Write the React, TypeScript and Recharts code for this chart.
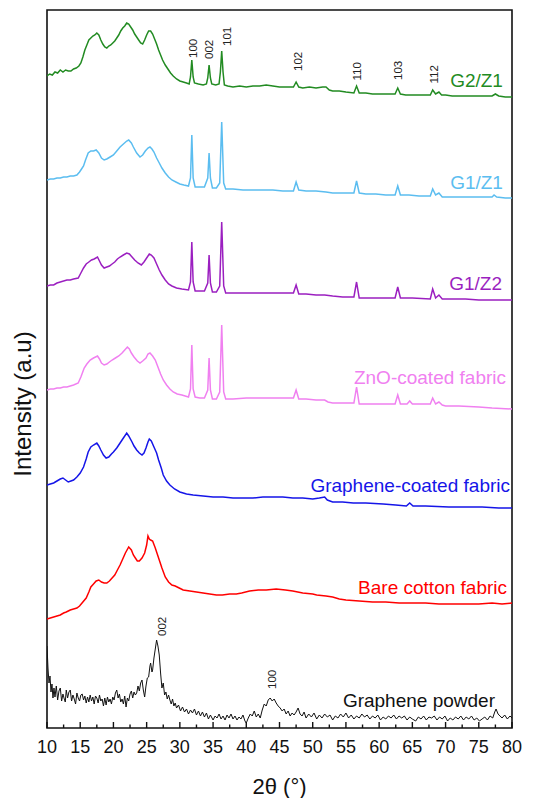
import React from 'react';
import { LineChart, Line, XAxis, YAxis, ReferenceArea, ReferenceDot } from 'recharts';

type Pt = [number, number];

// 2θ (deg) vs stacked intensity (a.u.)
const g2z1: Pt[] = [
[10.0,652],[10.4,654],[10.8,653],[11.2,656],[11.6,655],[12.0,658],[12.4,656],[12.8,658],[13.2,657],[13.6,657],[14.0,659],[14.4,660],[14.8,662],[15.1,665],[15.4,671],[15.7,678],[16.0,683],[16.3,688],[16.6,690],[16.9,692],[17.2,693],[17.5,695],[17.8,693],[18.1,688],[18.4,684],[18.7,681],[19.0,680],[19.3,682],[19.6,683],[19.9,685],[20.2,687],[20.5,690],[20.8,693],[21.1,697],[21.4,700],[21.7,702],[22.0,705],[22.3,704],[22.6,701],[22.9,698],[23.2,694],[23.5,691],[23.8,688],[24.1,685],[24.4,684],[24.7,688],[25.0,693],[25.3,697],[25.6,697],[25.9,694],[26.2,689],[26.5,684],[26.8,678],[27.1,673],[27.4,668],[27.8,663],[28.2,659],[28.6,655],[29.0,652],[29.5,649],[30.0,647],[30.5,646],[31.0,645],[31.4,644],[31.6,651],[31.8,668],[32.0,651],[32.2,645],[32.8,644],[33.5,643],[34.0,644],[34.2,650],[34.4,663],[34.6,650],[34.8,644],[35.4,643],[35.9,644],[36.1,656],[36.3,677],[36.5,656],[36.7,643],[37.2,642],[38,641],[39,642],[40,641],[41,642],[42,642],[43,643],[44,642],[45,641],[46,641],[47.1,641],[47.5,646],[47.9,641],[48.5,640],[49.5,641],[50.5,640],[51.5,641],[52.0,641],[52.5,638],[53,637],[54,637],[55,636],[56.2,635],[56.6,642],[57.0,635],[58,635],[59,634],[60,634],[61,634],[62.4,634],[62.8,640],[63.2,634],[64,633],[65,633],[66,633],[67,633],[67.7,633],[68.06,638],[68.5,634],[69.0,636],[69.4,633],[70,633],[71,632],[72,632],[73,632],[74,632],[75,632],[76,632],[77,632],[77.5,634],[78,632],[79,631],[80,631]];

const g1z1: Pt[] = [
[10.0,548],[10.5,549],[11,549],[11.5,550],[12,550],[12.5,551],[13,551],[13.5,552],[14,552],[14.5,553],[14.9,556],[15.2,559],[15.5,562],[15.8,568],[16.2,575],[16.6,577],[17.0,577],[17.4,578],[17.8,575],[18.2,570],[18.6,568],[19.0,569],[19.5,571],[20.0,573],[20.5,577],[21.0,581],[21.5,584],[22.0,587],[22.3,588],[22.7,585],[23.0,581],[23.5,575],[24.0,571],[24.4,573],[24.8,577],[25.2,580],[25.5,581],[25.8,579],[26.1,576],[26.5,570],[26.9,565],[27.3,560],[27.8,555],[28.3,551],[28.8,548],[29.4,546],[30,544],[30.6,543],[31.3,542],[31.6,550],[31.8,593],[32.0,550],[32.3,541],[33,541],[33.7,541],[34.2,550],[34.4,575],[34.6,550],[34.9,540],[35.5,540],[36.0,545],[36.3,606],[36.6,545],[36.9,539],[38,539],[39.5,538],[41,538],[42.5,538],[44,538],[45.5,537],[47.1,537],[47.5,546],[47.9,538],[49,537],[50.5,537],[52,536],[53,535],[54.5,535],[56.2,535],[56.6,547],[57.0,535],[58,534],[59.5,534],[61,533],[62.4,533],[62.8,542],[63.2,533],[64.5,533],[66,532],[67.7,532],[68.06,539],[68.5,533],[69.0,535],[69.5,531],[71,531],[73,531],[75,531],[77,531],[77.3,533],[77.7,531],[79,530],[80,530]];

const g1z2: Pt[] = [
[10,442],[10.5,443],[11,443],[11.5,445],[12,446],[12.5,447],[13,448],[13.5,448],[14,449],[14.7,450],[15.1,455],[15.5,460],[15.9,464],[16.3,466],[16.7,468],[17.1,469],[17.6,471],[17.9,467],[18.2,463],[18.6,460],[19.0,461],[19.4,462],[19.8,464],[20.2,466],[20.6,469],[21.0,471],[21.5,473],[22.0,475],[22.4,474],[22.8,471],[23.2,468],[23.7,465],[24.2,463],[24.6,466],[25.0,470],[25.4,474],[25.7,473],[26.1,470],[26.5,464],[26.9,458],[27.3,453],[27.8,448],[28.3,444],[28.8,442],[29.5,440],[30.3,439],[31.3,438],[31.6,446],[31.8,486],[32.0,446],[32.3,437],[33,437],[33.7,437],[34.2,445],[34.4,473],[34.6,445],[34.9,436],[35.5,436],[36.0,442],[36.3,506],[36.6,442],[36.9,435],[38,435],[40,435],[42,435],[44,435],[45.5,435],[47.1,435],[47.5,443],[47.9,434],[49,434],[50.5,433],[51.8,433],[53,432],[54.5,431],[56.2,431],[56.6,446],[57.0,430],[58.5,430],[60,430],[62.4,430],[62.8,441],[63.2,430],[65,430],[67.7,429],[68.06,439],[68.5,430],[69.0,433],[69.5,429],[71,429],[73,429],[75,428],[77,428],[79,428],[80,428]];

const znoFabric: Pt[] = [
[10,338],[10.5,339],[11,339],[11.5,340],[12,340],[12.5,341],[13,341],[13.5,342],[14,343],[14.7,345],[15.1,351],[15.6,360],[16.0,364],[16.5,368],[17.0,370],[17.6,372],[17.9,369],[18.2,365],[18.6,363],[19.0,364],[19.4,366],[19.8,368],[20.3,370],[20.8,372],[21.3,375],[21.7,378],[22.1,381],[22.4,379],[22.7,375],[23.1,371],[23.6,367],[24.0,365],[24.4,367],[24.9,370],[25.2,374],[25.5,375],[25.9,372],[26.3,368],[26.7,361],[27.1,354],[27.5,348],[28.0,343],[28.5,339],[29.0,336],[29.6,334],[30.3,333],[31.3,331],[31.6,339],[31.8,383],[32.0,339],[32.3,331],[33,330],[33.7,330],[34.2,338],[34.4,370],[34.6,338],[34.9,329],[35.5,329],[36.0,336],[36.3,403],[36.6,336],[36.9,329],[38,329],[40,330],[42,330],[44,330],[45.5,330],[47.1,330],[47.5,338],[47.9,329],[49,329],[50.5,328],[51.8,328],[52.3,326],[53,325],[54.5,325],[56.2,325],[56.6,341],[57.0,324],[58.5,324],[60,324],[62.4,324],[62.8,333],[63.2,324],[64.2,324],[64.6,327],[65.0,324],[66.5,324],[67.7,324],[68.06,330],[68.5,324],[69.0,326],[69.5,323],[70,322],[72,322],[75,321],[77,320],[80,319]];

const grapheneFabric: Pt[] = [
[10,243],[10.5,244],[11,245],[11.5,247],[12,249],[12.4,250],[12.8,248],[13.2,246],[13.6,247],[14.0,248],[14.5,251],[15.0,255],[15.5,261],[15.9,269],[16.2,276],[16.6,281],[17.0,283],[17.5,285],[17.8,282],[18.1,278],[18.5,273],[18.9,270],[19.3,271],[19.7,274],[20,276],[20.5,280],[21,285],[21.5,290],[22,295],[22.3,292],[22.8,286],[23.1,282],[23.5,278],[23.9,275],[24.3,273],[24.6,275],[24.9,280],[25.2,286],[25.4,289],[25.7,287],[26.1,281],[26.5,275],[26.8,268],[27.2,260],[27.5,253],[28.0,247],[28.5,243],[29.2,239],[30,236],[31,234],[32,233],[33.5,232],[35,231],[36.5,231],[38,230],[39.5,230],[41,230],[42.5,231],[44,231],[45.5,231],[47,230],[48.5,230],[50,229],[51,230],[51.8,231],[52.2,228],[53,226],[54.5,226],[56.1,225],[58,225],[60.6,224],[62.5,223],[64.1,222],[64.6,225],[65.1,222],[67,222],[70.5,221],[73,221],[75.5,221],[78,220],[80,220]];

const bareCotton: Pt[] = [
[10,109],[10.5,110],[11,111],[11.5,112],[12,113],[12.5,115],[12.9,116],[13.5,118],[14.0,119],[14.5,120],[14.9,122],[15.4,126],[15.9,130],[16.3,136],[16.6,141],[17.0,144],[17.4,147],[17.8,148],[18.2,146],[18.6,145],[19.0,145],[19.4,147],[19.8,150],[20.2,153],[20.6,158],[21.0,163],[21.4,169],[21.8,175],[22.3,181],[22.7,178],[23.0,173],[23.3,170],[23.6,167],[23.9,167],[24.3,170],[24.7,175],[25.0,183],[25.2,192],[25.4,189],[25.6,188],[25.9,187],[26.3,180],[26.6,174],[26.9,168],[27.3,160],[27.8,151],[28.3,146],[28.8,143],[29.3,142],[29.9,140],[30.5,138],[31.5,137],[32.5,136],[33.5,135],[34.5,134],[35.5,133],[36.4,133],[37.5,134],[38.5,134],[39.3,135],[40.5,137],[41.8,138],[43,138],[44.5,139],[45.9,138],[47,137],[48.5,135],[50,134],[50.6,133],[52,132],[53,131],[54,129],[55,128],[57,127],[59,126],[61,126],[63,125],[65,125],[67,125],[69,124],[71,124],[73,124],[75,124],[77,125],[78.5,124],[80,125]];

const graphenePowder: Pt[] = [
[10.0,82],[10.15,60],[10.3,45],[10.45,52],[10.6,36],[10.75,44],[10.9,30],[11.05,40],[11.2,31],[11.4,42],[11.6,28],[11.8,37],[12.0,40],[12.2,27],[12.4,34],[12.6,29],[12.75,26],[12.9,38],[13.1,30],[13.3,36],[13.5,38],[13.7,27],[13.9,33],[14.1,29],[14.3,24],[14.5,35],[14.7,30],[14.9,27],[15.1,33],[15.3,34],[15.5,28],[15.7,32],[15.9,25],[16.1,31],[16.3,26],[16.5,33],[16.7,27],[16.9,31],[17.1,24],[17.3,32],[17.5,30],[17.7,25],[17.9,33],[18.1,27],[18.3,29],[18.5,22],[18.7,30],[18.9,23],[19.1,31],[19.3,26],[19.5,29],[19.7,24],[19.9,31],[20.1,28],[20.3,35],[20.5,38],[20.7,30],[20.9,34],[21.1,26],[21.3,29],[21.5,24],[21.7,32],[21.9,21],[22.1,30],[22.3,27],[22.5,34],[22.7,37],[22.9,30],[23.1,36],[23.3,33],[23.5,35],[23.7,42],[23.9,37],[24.1,45],[24.3,48],[24.5,38],[24.7,31],[24.9,42],[25.1,50],[25.3,51],[25.5,62],[25.6,65],[25.8,56],[25.9,58],[26.1,70],[26.3,79],[26.5,88],[26.7,82],[26.9,73],[27.1,55],[27.3,40],[27.5,45],[27.7,33],[27.9,36],[28.1,29],[28.3,33],[28.5,28],[28.7,24],[28.9,29],[29.1,22],[29.3,25],[29.5,20],[29.8,23],[30.1,17],[30.4,21],[30.7,16],[31.0,19],[31.3,14],[31.6,18],[31.9,15],[32.2,19],[32.5,13],[32.8,17],[33.1,12],[33.4,16],[33.7,11],[34.0,15],[34.3,9],[34.6,13],[35.0,8],[35.3,12],[35.6,10],[35.9,14],[36.2,9],[36.5,12],[36.8,8],[37.1,13],[37.4,10],[37.7,14],[38.0,9],[38.3,12],[38.6,8],[38.9,11],[39.2,9],[39.5,13],[39.8,7],[40.0,5],[40.3,10],[40.6,14],[40.9,12],[41.2,17],[41.5,11],[41.8,14],[42.1,10],[42.4,18],[42.7,24],[43.0,22],[43.3,28],[43.6,30],[43.9,27],[44.2,29],[44.5,25],[44.8,22],[45.1,20],[45.4,17],[45.7,19],[46.0,14],[46.3,17],[46.6,12],[46.9,15],[47.2,13],[47.5,16],[47.8,20],[48.1,14],[48.4,12],[48.7,16],[49.0,10],[49.4,14],[49.8,11],[50.2,15],[50.6,9],[51.0,13],[51.4,10],[51.8,14],[52.2,11],[52.6,13],[53.0,8],[53.4,12],[53.8,10],[54.2,14],[54.6,11],[55.0,15],[55.4,10],[55.8,13],[56.2,9],[56.6,12],[57.0,10],[57.4,14],[57.8,11],[58.2,13],[58.6,9],[59.0,12],[59.4,10],[59.8,13],[60.2,8],[60.6,11],[61.0,9],[61.4,12],[61.8,10],[62.2,13],[62.6,9],[63.0,12],[63.4,10],[63.8,12],[64.2,8],[64.6,11],[65.0,9],[65.5,7],[65.9,11],[66.3,9],[66.7,12],[67.1,8],[67.5,11],[67.9,10],[68.3,12],[68.7,8],[69.1,11],[69.5,9],[69.9,12],[70.3,7],[70.7,10],[71.1,8],[71.5,11],[71.9,9],[72.3,12],[72.7,8],[73.1,11],[73.5,9],[73.9,12],[74.3,8],[74.7,10],[75.1,7],[75.5,9],[75.9,11],[76.3,8],[76.7,12],[77.1,10],[77.4,16],[77.6,19],[77.9,14],[78.2,12],[78.5,10],[78.9,13],[79.3,9],[79.7,12],[80.0,10]];

const xTicks = [10,12.5,15,17.5,20,22.5,25,27.5,30,32.5,35,37.5,40,42.5,45,47.5,50,52.5,55,57.5,60,62.5,65,67.5,70,72.5,75,77.5,80];

const seriesNames = ['G2/Z1','G1/Z1','G1/Z2','ZnO-coated fabric','Graphene-coated fabric','Bare cotton fabric','Graphene powder'];
const seriesData = [g2z1, g1z1, g1z2, znoFabric, grapheneFabric, bareCotton, graphenePowder];
const seriesColors = ['#228B22','#5BBDF0','#9B1FC0','#F080F0','#1515E8','#FF0000','#111111'];

const xLabel = '2θ (°)';
const yLabel = 'Intensity (a.u)';

// label anchors (data coords): right-aligned name labels
const nameAnchors: Pt[] = [[78.64,641],[78.64,539],[78.5,438],[79.1,344],[79.7,236],[79.25,134],[77.44,21]];
const yLabelAnchor: Pt = [10, 324];

// hkl labels: [2θ, y of text start, pixel nudge]
const znoHkl = ['100','002','101','102','110','103','112'];
const znoHklPos: [number, number, number][] = [[31.8,670,1],[34.4,669,0],[36.3,682,5],[47.5,657,2],[56.6,647.5,0],[62.8,648,0.5],[68.06,644.5,1.6]];
const grHkl = ['002','100'];
const grHklPos: [number, number, number][] = [[26.5,92,5],[43.6,39,2]];

const FONT = 'Liberation Sans, Arial, Helvetica, sans-serif';

const XTick = (props: any) => {
  const { x, y, payload } = props;
  const v = payload.value as number;
  const major = v % 5 === 0;
  return (
    <g>
      <line x1={x} y1={y} x2={x} y2={y - (major ? 6 : 3.5)} stroke="#111" strokeWidth={1.4} />
      {major && (
        <text x={x} y={y + 25} textAnchor="middle" fontSize={18} fill="#111" fontFamily={FONT}>{v}</text>
      )}
    </g>
  );
};

const rotLabel = (text: string, nudge: number) => (props: any) => {
  const x = props.cx + nudge + 4.2;
  const y = props.cy;
  return (
    <text x={x} y={y} transform={`rotate(-90 ${x} ${y})`} textAnchor="start" fontSize={11.5} fill="#222" fontFamily={FONT}>{text}</text>
  );
};

const yTitle = (props: any) => {
  const x = props.cx - 16;
  const y = props.cy;
  return (
    <text x={x} y={y} transform={`rotate(-90 ${x} ${y})`} textAnchor="middle" fontSize={24} fill="#111" fontFamily={FONT}>{yLabel}</text>
  );
};

const nameLabel = (text: string, color: string) => (props: any) => (
  <text x={props.cx} y={props.cy} textAnchor="end" fontSize={19} fill={color} fontFamily={FONT}>{text}</text>
);

export default function App() {
  const lines = seriesData.map((d) => d.map(([x, y]) => ({ x, y })));
  return (
    <div style={{ position: 'absolute', left: 0, top: 0, width: 534, height: 798, background: '#fff' }}>
      <LineChart width={534} height={798} margin={{ top: 10, right: 22, bottom: 0, left: 47 }}>
        <XAxis
          dataKey="x"
          type="number"
          domain={[10, 80]}
          ticks={xTicks}
          interval={0}
          allowDataOverflow
          axisLine={false}
          tickLine={false}
          tickSize={0}
          tickMargin={0}
          height={70}
          tick={<XTick />}
          label={{
            content: (p: any) => {
              const vb = p.viewBox || {};
              return (
                <text x={vb.x + vb.width / 2} y={vb.y + 66} textAnchor="middle" fontSize={22} fill="#111" fontFamily={FONT}>{xLabel}</text>
              );
            },
          }}
        />
        <YAxis type="number" domain={[0, 718]} allowDataOverflow hide />
        <ReferenceArea x1={10} x2={80} y1={0} y2={718} fill="none" stroke="#111" strokeWidth={1.6} fillOpacity={0} />
        {lines.map((d, i) => (
          <Line
            key={seriesNames[i]}
            data={d}
            dataKey="y"
            type="linear"
            stroke={seriesColors[i]}
            strokeWidth={i === 6 ? 1 : 1.5}
            dot={false}
            activeDot={false}
            isAnimationActive={false}
          />
        ))}
        <ReferenceDot x={yLabelAnchor[0]} y={yLabelAnchor[1]} r={0} ifOverflow="visible" shape={yTitle} />
        {znoHkl.map((t, i) => (
          <ReferenceDot key={'z' + t} x={znoHklPos[i][0]} y={znoHklPos[i][1]} r={0} shape={rotLabel(t, znoHklPos[i][2])} />
        ))}
        {grHkl.map((t, i) => (
          <ReferenceDot key={'g' + t} x={grHklPos[i][0]} y={grHklPos[i][1]} r={0} shape={rotLabel(t, grHklPos[i][2])} />
        ))}
        {seriesNames.map((n, i) => (
          <ReferenceDot key={'n' + n} x={nameAnchors[i][0]} y={nameAnchors[i][1]} r={0} shape={nameLabel(n, i === 6 ? '#111' : seriesColors[i])} />
        ))}
      </LineChart>
    </div>
  );
}
